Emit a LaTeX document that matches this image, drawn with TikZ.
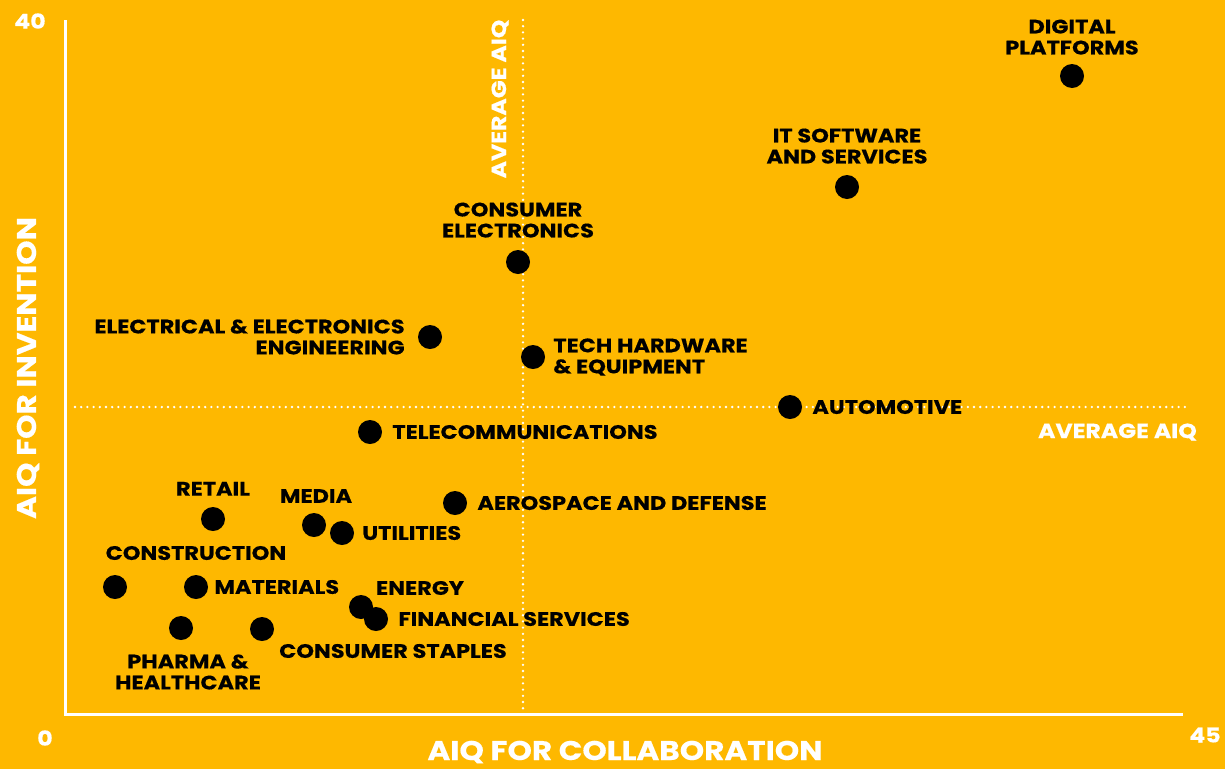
\documentclass[tikz,border=0pt]{standalone}
\usepackage{fontspec}
\setmainfont{Poppins}[FakeStretch=1.15, BoldFeatures={FakeBold=0.4}]
\usetikzlibrary{positioning}
\definecolor{aiqyellow}{RGB}{254,184,0}
\tikzset{
  inddot/.style={circle, fill=black, minimum size=24pt, inner sep=0pt},
  lbl/.style={font=\bfseries\fontsize{19.5}{21}\selectfont, text=black, inner sep=0pt},
  white lbl/.style={font=\bfseries\fontsize{20.5}{21}\selectfont, text=white, inner sep=0pt},
  axis title/.style={font=\bfseries\fontsize{27}{30}\selectfont, text=white, inner sep=0pt},
  axis line/.style={draw=white, line width=3pt},
  avg line/.style={draw=white, line width=2.6pt, line cap=round, dash pattern=on 0pt off 6.2pt}
}

\begin{document}
\begin{tikzpicture}[x=1pt, y=-1pt]
  \fill[aiqyellow] (0,0) rectangle (1225,769);
  \useasboundingbox (0,0) rectangle (1225,769);

  % axes and averages
  \coordinate (ytop) at (65,20);
  \coordinate (origin) at (65,714);
  \coordinate (xend) at (1183,714);
  \coordinate (avtop) at (523,20);
  \coordinate (avbot) at (523,714);
  \coordinate (ahleft) at (75,407);
  \coordinate (ahright) at (1185,407);
  \draw[avg line] (avtop) -- (avbot);
  \draw[avg line] (ahleft) -- (ahright);
  \draw[axis line] (ytop) -- (origin) -- (xend);

  \node[white lbl] (ymax) at (30,21) {40};
  \node[white lbl] (zero) at (45,738) {0};
  \node[white lbl] (xmax) at (1205,735) {45};
  \node[axis title, rotate=90] (ytitle) at (28,368) {AIQ FOR INVENTION};
  \node[axis title] (xtitle) at (625,752) {AIQ FOR COLLABORATION};
  \node[white lbl, rotate=90] (avgv) at (500,99) {AVERAGE AIQ};
  \node[white lbl, anchor=east] (avgh) at (1197,432) {AVERAGE AIQ};

  % industries
  \node[inddot] (dp) at (1072,76) {};
  \node[inddot] (it) at (847,187) {};
  \node[inddot] (ce) at (518,262) {};
  \node[inddot] (eee) at (430,337) {};
  \node[inddot] (th) at (533,357) {};
  \node[inddot] (auto) at (790,407) {};
  \node[inddot] (tel) at (370,432) {};
  \node[inddot] (aero) at (455,503) {};
  \node[inddot] (ret) at (213,519) {};
  \node[inddot] (med) at (314,525) {};
  \node[inddot] (util) at (342,533) {};
  \node[inddot] (con) at (115,587) {};
  \node[inddot] (mat) at (196,587) {};
  \node[inddot] (en) at (361,607) {};
  \node[inddot] (fin) at (376,619) {};
  \node[inddot] (ph) at (181,628) {};
  \node[inddot] (cs) at (262,629) {};

  \node[lbl, align=center, above=9pt of dp] (dpl) {DIGITAL\\PLATFORMS};
  \node[lbl, align=center, above=11pt of it] (itl) {IT SOFTWARE\\AND SERVICES};
  \node[lbl, align=center, above=12pt of ce] (cel) {CONSUMER\\ELECTRONICS};
  \node[lbl, align=right, left=13pt of eee] (eeel) {ELECTRICAL \& ELECTRONICS\\ENGINEERING};
  \node[lbl, align=left, right=8pt of th] (thl) {TECH HARDWARE\\\& EQUIPMENT};
  \node[lbl, right=10pt of auto] (autol) {AUTOMOTIVE};
  \node[lbl, right=10pt of tel] (tell) {TELECOMMUNICATIONS};
  \node[lbl, right=10pt of aero] (aerol) {AEROSPACE AND DEFENSE};
  \node[lbl, above=11pt of ret] (retl) {RETAIL};
  \node[lbl] (medl) at (316,496) {MEDIA};
  \node[lbl, right=8pt of util] (utill) {UTILITIES};
  \node[lbl] (conl) at (196,553) {CONSTRUCTION};
  \node[lbl, right=6pt of mat] (matl) {MATERIALS};
  \node[lbl] (enl) at (420,588) {ENERGY};
  \node[lbl, right=10pt of fin] (finl) {FINANCIAL SERVICES};
  \node[lbl, align=center] (phl) at (188,672) {PHARMA \&\\HEALTHCARE};
  \node[lbl] (csl) at (393,651) {CONSUMER STAPLES};
\end{tikzpicture}
\end{document}
